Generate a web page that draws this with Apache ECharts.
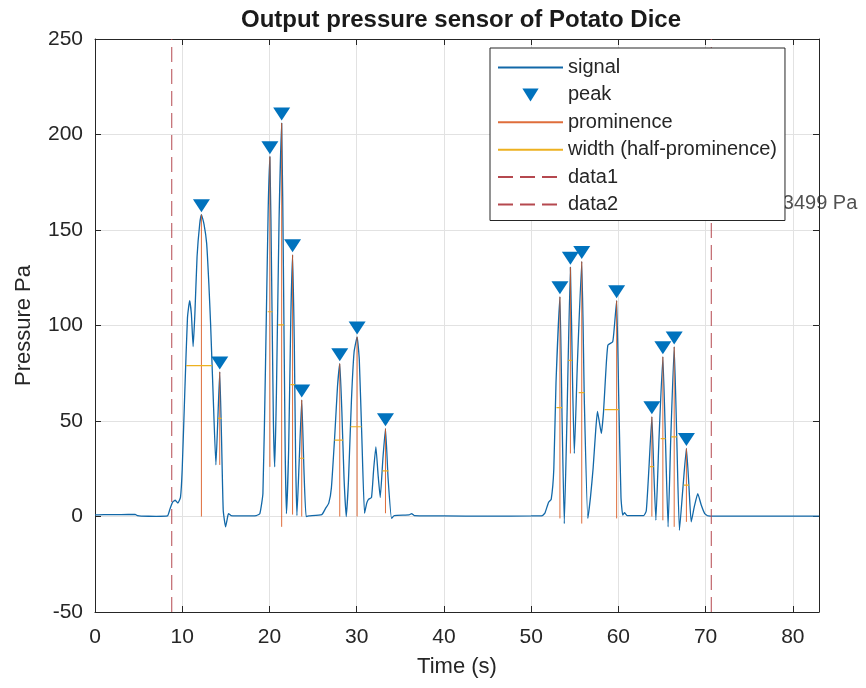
<!DOCTYPE html>
<html>
<head>
<meta charset="utf-8">
<title>Output pressure sensor of Potato Dice</title>
<script src="https://cdn.jsdelivr.net/npm/echarts@6/dist/echarts.min.js"></script>
<style>
  html, body { margin: 0; padding: 0; background: #fff; }
  #chart { width: 866px; height: 688px; }
</style>
</head>
<body>
<div id="chart"></div>
<script>
// signal: time (s) / pressure (Pa)
var signalTime = [0, 1, 3, 4.6, 4.9, 5.3, 7, 8.3, 8.6, 8.9, 9.2, 9.5, 9.8, 10.0, 10.3, 10.6, 10.85, 11.05, 11.25, 11.45,
  11.7, 12.0, 12.2, 12.5, 12.8, 13.05, 13.25, 13.55, 13.86, 14.05, 14.3, 14.5, 14.7, 14.97, 15.15, 15.3, 15.6, 17, 18.5, 18.9,
  19.25, 19.55, 19.85, 20.05, 20.25, 20.45, 20.6, 20.8, 21.1, 21.4, 21.6, 21.8, 21.95, 22.2, 22.45, 22.65, 22.85, 23.0, 23.15, 23.4,
  23.7, 23.95, 24.2, 24.5, 26.0, 26.4, 26.8, 27.1, 27.5, 27.8, 28.06, 28.3, 28.55, 28.8, 29.05, 29.4, 29.7, 30.05, 30.3, 30.6,
  30.9, 31.15, 31.35, 31.7, 31.95, 32.2, 32.45, 32.7, 33.0, 33.3, 33.6, 34.0, 34.3, 36, 36.3, 36.6, 40, 45, 50, 51.3,
  51.6, 52.0, 52.3, 52.6, 52.85, 53.3, 53.55, 53.8, 54.1, 54.5, 54.75, 54.95, 55.3, 55.8, 56.1, 56.5, 56.8, 57.1, 57.4, 57.6,
  57.8, 58.05, 58.3, 58.55, 58.8, 59.35, 59.55, 59.8, 60.05, 60.3, 60.5, 60.7, 61, 62.9, 63.2, 63.5, 63.84, 64.05, 64.3, 64.65,
  65.1, 65.4, 65.7, 66.0, 66.4, 66.7, 67.0, 67.4, 67.8, 68.1, 68.35, 68.7, 69.1, 69.5, 69.9, 70.3, 71, 83];
var signalValue = [0.8, 1.0, 1.0, 1.1, 0.4, 0.2, 0.1, 0.3, 4, 7.5, 8.5, 7, 10, 25, 66, 104, 113, 106, 89, 106,
  136, 153, 158, 153, 143, 122, 101, 63, 27, 47, 75.7, 42, 3.3, -5.4, -1.5, 1.5, 0.5, 0.3, 0.5, 1.5,
  12, 80, 160, 188.4, 125, 50, 26, 65, 155, 206, 130, 35, 1.5, 35, 105, 137, 90, 30, 0.5, 28,
  61, 25, 0, 0.3, 1, 4, 7, 15, 43.6, 68, 80, 55, 20, 0, 18, 61, 86, 94, 82, 40,
  1.7, 7, 9, 10, 25, 36.5, 22, 10, 30, 46, 20, -1, 0.5, 0.8, 1.5, 0.5, 0.3, 0.2, 0.3, 0.5,
  2, 7.5, 9, 25, 70, 115, 50, -3.7, 50, 130.5, 70, 33, 80, 133.5, 60, -1, 10, 25, 45, 55,
  50, 43.5, 55, 75, 89.7, 91.5, 100, 113, 60, 10, 0.7, 2, 0.5, 0.5, 3, 25, 52.2, 25, -2, 40,
  83.6, 40, -5.4, 40, 88.8, 40, -7.2, 15, 35.6, 15, -2.8, 5, 12, 6, 1.5, 0.3, 0.2, 0.2];

// findpeaks output
var peakTime = [12.2, 14.3, 20.05, 21.4, 22.65, 23.7, 28.06, 30.05, 33.3, 53.3, 54.5, 55.8, 59.8, 63.84, 65.1, 66.4, 67.8];
var peakValue = [158, 75.7, 188.4, 206, 137, 61, 80, 94, 46, 115, 130.5, 133.5, 113, 52.2, 83.6, 88.8, 35.6];
var promBase = [0, 27, 26, -5.4, 1, 0, 0, 0, 1.7, -1, 33, -3.7, -1, 0, -2, -5.4, -2.8];
var widthLeft = [10.45, 14.1, 19.8, 21.0, 22.4, 23.45, 27.45, 29.29, 32.95, 52.9, 54.25, 55.45, 58.4, 63.6, 64.85, 66.05, 67.5];
var widthRight = [13.42, 14.5, 20.35, 21.65, 22.9, 23.95, 28.45, 30.55, 33.65, 53.55, 54.7, 56.1, 60.05, 64.05, 65.4, 66.7, 68.1];

// dashed markers (s)
var data1Time = 8.8;
var data2Time = 70.65;

// text label, mostly hidden behind the legend
var noteTime = 80;
var noteValue = 164;
var noteText = 'Max = 209.3499 Pa';

var xTicks = { min: 0, max: 83, step: 10 };
var yTicks = { min: -50, max: 250, step: 50 };

var FONT = 'Liberation Sans, Arial, Helvetica, sans-serif';
var AXIS_COLOR = '#262626';
var SIGNAL_COLOR = '#1268a8';
var DASH_COLOR = '#b5484f';

var signalData = signalTime.map(function (t, i) { return [t, signalValue[i]]; });
var peakData = peakTime.map(function (t, i) { return [t, peakValue[i]]; });

// vertical / horizontal segments, split with empty points
var promData = [];
var widthData = [];
for (var i = 0; i < peakTime.length; i++) {
  promData.push([peakTime[i], peakValue[i]], [peakTime[i], promBase[i]], [peakTime[i], '-']);
  var half = (peakValue[i] + promBase[i]) / 2;
  widthData.push([widthLeft[i], half], [widthRight[i], half], [widthRight[i], '-']);
}

function axisBase(pos, showLabel) {
  return {
    type: 'value',
    position: pos,
    axisLine: { show: true, onZero: false, lineStyle: { color: AXIS_COLOR, width: 1 } },
    axisTick: { show: true, inside: true, length: 6, lineStyle: { color: AXIS_COLOR } },
    axisLabel: { show: showLabel, fontSize: 21, color: AXIS_COLOR, fontFamily: FONT, margin: 12 },
    splitLine: { show: showLabel, lineStyle: { color: '#e2e2e2', width: 1 } }
  };
}

var xBottom = axisBase('bottom', true);
xBottom.min = xTicks.min; xBottom.max = xTicks.max; xBottom.interval = xTicks.step;
xBottom.axisLabel.showMaxLabel = false;
xBottom.axisLabel.margin = 15;
xBottom.name = 'Time (s)';
xBottom.nameLocation = 'middle';
xBottom.nameGap = 44;
xBottom.nameTextStyle = { fontSize: 22, color: AXIS_COLOR, fontFamily: FONT };

var xTop = axisBase('top', false);
xTop.min = xTicks.min; xTop.max = xTicks.max; xTop.interval = xTicks.step;

var yLeft = axisBase('left', true);
yLeft.min = yTicks.min; yLeft.max = yTicks.max; yLeft.interval = yTicks.step;
yLeft.name = 'Pressure Pa';
yLeft.nameLocation = 'middle';
yLeft.nameGap = 60;
yLeft.nameTextStyle = { fontSize: 22, color: AXIS_COLOR, fontFamily: FONT };

var yRight = axisBase('right', false);
yRight.min = yTicks.min; yRight.max = yTicks.max; yRight.interval = yTicks.step;

// legend entries: lines without the default centre dot
var noDot = { opacity: 0, color: 'rgba(0,0,0,0)', borderWidth: 0 };
var legendNames = ['signal', 'peak', 'prominence', 'width (half-prominence)', 'data1', 'data2'];
var legendData = legendNames.map(function (n) {
  return n === 'peak' ? { name: n } : { name: n, itemStyle: noDot };
});

var chart = echarts.init(document.getElementById('chart'));

chart.setOption({
  animation: false,
  backgroundColor: '#fff',
  textStyle: { fontFamily: FONT },
  title: {
    text: 'Output pressure sensor of Potato Dice',
    left: 456,
    top: 3,
    textAlign: 'center',
    textStyle: { fontSize: 24, fontWeight: 'bold', color: '#1a1a1a', fontFamily: FONT }
  },
  grid: { left: 95, right: 47, top: 39, bottom: 76, containLabel: false },
  xAxis: [xBottom, xTop],
  yAxis: [yLeft, yRight],
  legend: {
    orient: 'vertical',
    left: 490,
    top: 48,
    itemWidth: 65,
    itemHeight: 13,
    itemGap: 7.4,
    padding: [9.5, 8, 6, 7],
    backgroundColor: '#fff',
    borderColor: AXIS_COLOR,
    borderWidth: 1,
    borderRadius: 0,
    selectedMode: false,
    textStyle: { fontSize: 20, color: AXIS_COLOR, fontFamily: FONT },
    data: legendData
  },
  series: [
    {
      name: 'signal',
      type: 'line',
      data: signalData,
      symbol: 'none',
      smooth: 0.15,
      lineStyle: { color: SIGNAL_COLOR, width: 1.3 },
      itemStyle: { color: SIGNAL_COLOR },
      z: 2
    },
    {
      name: 'peak',
      type: 'scatter',
      data: peakData,
      symbol: 'path://M0,0L20,0L10,16Z',
      symbolSize: [17, 13],
      symbolOffset: [0, -9],
      itemStyle: { color: '#0072BD', opacity: 1 },
      z: 3
    },
    {
      name: 'prominence',
      type: 'line',
      data: promData,
      symbol: 'none',
      connectNulls: false,
      lineStyle: { color: '#D95319', width: 1, opacity: 0.85 },
      itemStyle: { color: '#D95319' },
      z: 4
    },
    {
      name: 'width (half-prominence)',
      type: 'line',
      data: widthData,
      symbol: 'none',
      connectNulls: false,
      lineStyle: { color: '#EDB120', width: 1.2 },
      itemStyle: { color: '#EDB120' },
      z: 4
    },
    {
      name: 'data1',
      type: 'line',
      data: [[data1Time, yTicks.min], [data1Time, yTicks.max]],
      symbol: 'none',
      lineStyle: { color: DASH_COLOR, width: 1, type: [15, 7] },
      itemStyle: { color: DASH_COLOR },
      z: 3
    },
    {
      name: 'data2',
      type: 'line',
      data: [[data2Time, yTicks.min], [data2Time, yTicks.max]],
      symbol: 'none',
      lineStyle: { color: DASH_COLOR, width: 1, type: [15, 7] },
      itemStyle: { color: DASH_COLOR },
      z: 3
    },
    {
      name: 'note',
      type: 'scatter',
      data: [[noteTime, noteValue]],
      symbolSize: 1,
      silent: true,
      itemStyle: { color: 'rgba(0,0,0,0)' },
      label: {
        show: true,
        position: 'left',
        distance: 0,
        offset: [65, 0],
        formatter: noteText,
        fontSize: 20,
        color: AXIS_COLOR,
        fontFamily: FONT
      },
      z: 1
    }
  ]
});
</script>
</body>
</html>
